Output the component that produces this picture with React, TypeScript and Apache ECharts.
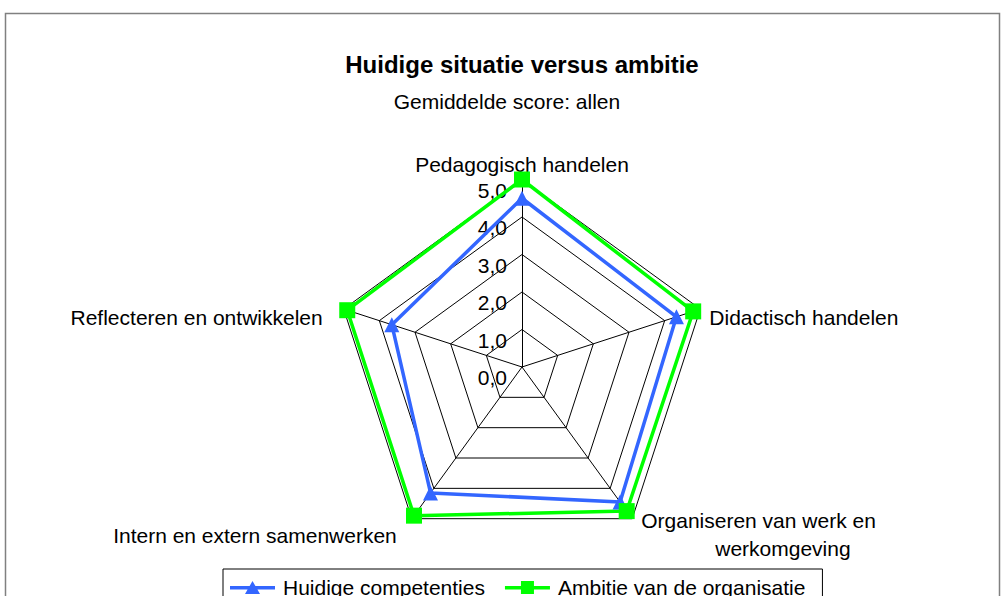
import React, { useEffect, useRef } from 'react';
import * as echarts from 'echarts';

// Categories in clockwise order, starting at the top (as in the reference)
const categories = [
  'Pedagogisch handelen',
  'Didactisch handelen',
  'Organiseren van werk en werkomgeving',
  'Intern en extern samenwerken',
  'Reflecteren en ontwikkelen',
];
const huidige = [4.5, 4.33, 4.45, 4.15, 3.65];
const ambitie = [5.0, 4.8, 4.75, 4.9, 4.9];
const seriesNames = ['Huidige competenties', 'Ambitie van de organisatie'];
const axisMin = 0;
const axisMax = 5;
const titleText = 'Huidige situatie versus ambitie';
const subtitleText = 'Gemiddelde score: allen';

const FONT = "'Liberation Sans', Arial, sans-serif";

// ECharts lays radar indicators out counter-clockwise; reorder to get clockwise
const order = [0, 4, 3, 2, 1];

const triIcon =
  'path://M0,6 L45,6 L45,9.5 L0,9.5 Z M22.5,1 L30,14 L15,14 Z';
const sqIcon =
  'path://M0,6 L45,6 L45,9.5 L0,9.5 Z M16,1 L29,1 L29,14 L16,14 Z';

export default function App() {
  const ref = useRef<HTMLDivElement>(null);
  useEffect(() => {
    if (!ref.current) return;
    const chart = echarts.init(ref.current, undefined, { renderer: 'svg' });
    const base = { fontSize: 21, fontFamily: FONT, color: '#000' };
    const option = {
      animation: false,
      backgroundColor: '#fff',
      title: [
        {
          text: titleText,
          left: 517,
          top: 47,
          textAlign: 'center',
          textStyle: { fontSize: 24, fontWeight: 'bold', fontFamily: FONT, color: '#000' },
        },
        {
          text: subtitleText,
          left: 502,
          top: 86,
          textAlign: 'center',
          textStyle: { fontSize: 21, fontWeight: 'normal', fontFamily: FONT, color: '#000' },
        },
      ],
      graphic: [
        {
          type: 'rect',
          shape: { x: 5.5, y: 13.5, width: 994, height: 700 },
          style: { fill: 'none', stroke: '#808080', lineWidth: 1.5 },
          silent: true,
        },
      ],
      legend: {
        left: 223,
        top: 569,
        orient: 'horizontal',
        itemWidth: 45,
        itemHeight: 14,
        itemGap: 20,
        padding: [8, 17, 8, 7],
        borderColor: '#000',
        borderWidth: 1,
        textStyle: { ...base, padding: [0, 0, 0, 3] },
        data: [
          { name: seriesNames[0], icon: triIcon, itemStyle: { color: '#3366FF' } },
          { name: seriesNames[1], icon: sqIcon, itemStyle: { color: '#00FF00' } },
        ],
      },
      radar: {
        center: [522, 367],
        radius: 187.5,
        startAngle: 90,
        shape: 'polygon',
        splitNumber: 5,
        nameGap: 0,
        axisName: {
          ...base,
          formatter: (name: string) => {
            const i = categories.indexOf(name);
            if (i === 0) return `{top|${name}}`;
            if (i === 1) return `{right|${name}}`;
            if (i === 2) {
              const words = name.split(' ');
              const l1 = words.slice(0, words.length - 1).join(' ');
              const l2 = words[words.length - 1];
              return `{br1|${l1}}\n{br2|${l2}}`;
            }
            if (i === 3) return `{bl|${name}}`;
            return `{left|${name}}`;
          },
          rich: {
            top: { ...base, padding: [0, 0, 5, 0] },
            right: { ...base, padding: [16, 0, 0, 9] },
            br1: { ...base, lineHeight: 28, padding: [32, 0, 0, 9] },
            br2: { ...base, lineHeight: 28, padding: [32, 0, 0, 83] },
            bl: { ...base, padding: [33, 15, 0, 0] },
            left: { ...base, padding: [16, 21, 0, 0] },
          },
        },
        indicator: order.map((ci, k) => ({
          name: categories[ci],
          min: axisMin,
          max: axisMax,
          axisLabel:
            k === 0
              ? {
                  show: true,
                  ...base,
                  margin: 15,
                  showMinLabel: true,
                  showMaxLabel: true,
                  formatter: (v: number) => `{t|${v.toFixed(1).replace('.', ',')}}`,
                  rich: { t: { ...base, padding: [21, 0, 0, 0] } },
                }
              : { show: false },
        })),
        axisLabel: { show: false },
        axisTick: { show: false },
        axisLine: { show: true, lineStyle: { color: '#000', width: 1 } },
        splitLine: { show: true, lineStyle: { color: '#000', width: 1 } },
        splitArea: { show: false },
      },
      series: [
        {
          type: 'radar',
          data: [
            {
              name: seriesNames[0],
              value: order.map((ci) => huidige[ci]),
              symbol: 'triangle',
              symbolSize: 15,
              lineStyle: { color: '#3366FF', width: 3.5 },
              itemStyle: { color: '#3366FF' },
            },
            {
              name: seriesNames[1],
              value: order.map((ci) => ambitie[ci]),
              symbol: 'rect',
              symbolSize: 16,
              lineStyle: { color: '#00FF00', width: 3.5 },
              itemStyle: { color: '#00FF00' },
            },
          ],
        },
      ],
    };
    chart.setOption(option as any);
    return () => chart.dispose();
  }, []);
  return (
    <div
      ref={ref}
      style={{ position: 'absolute', left: 0, top: 0, width: 1005, height: 596 }}
    />
  );
}
